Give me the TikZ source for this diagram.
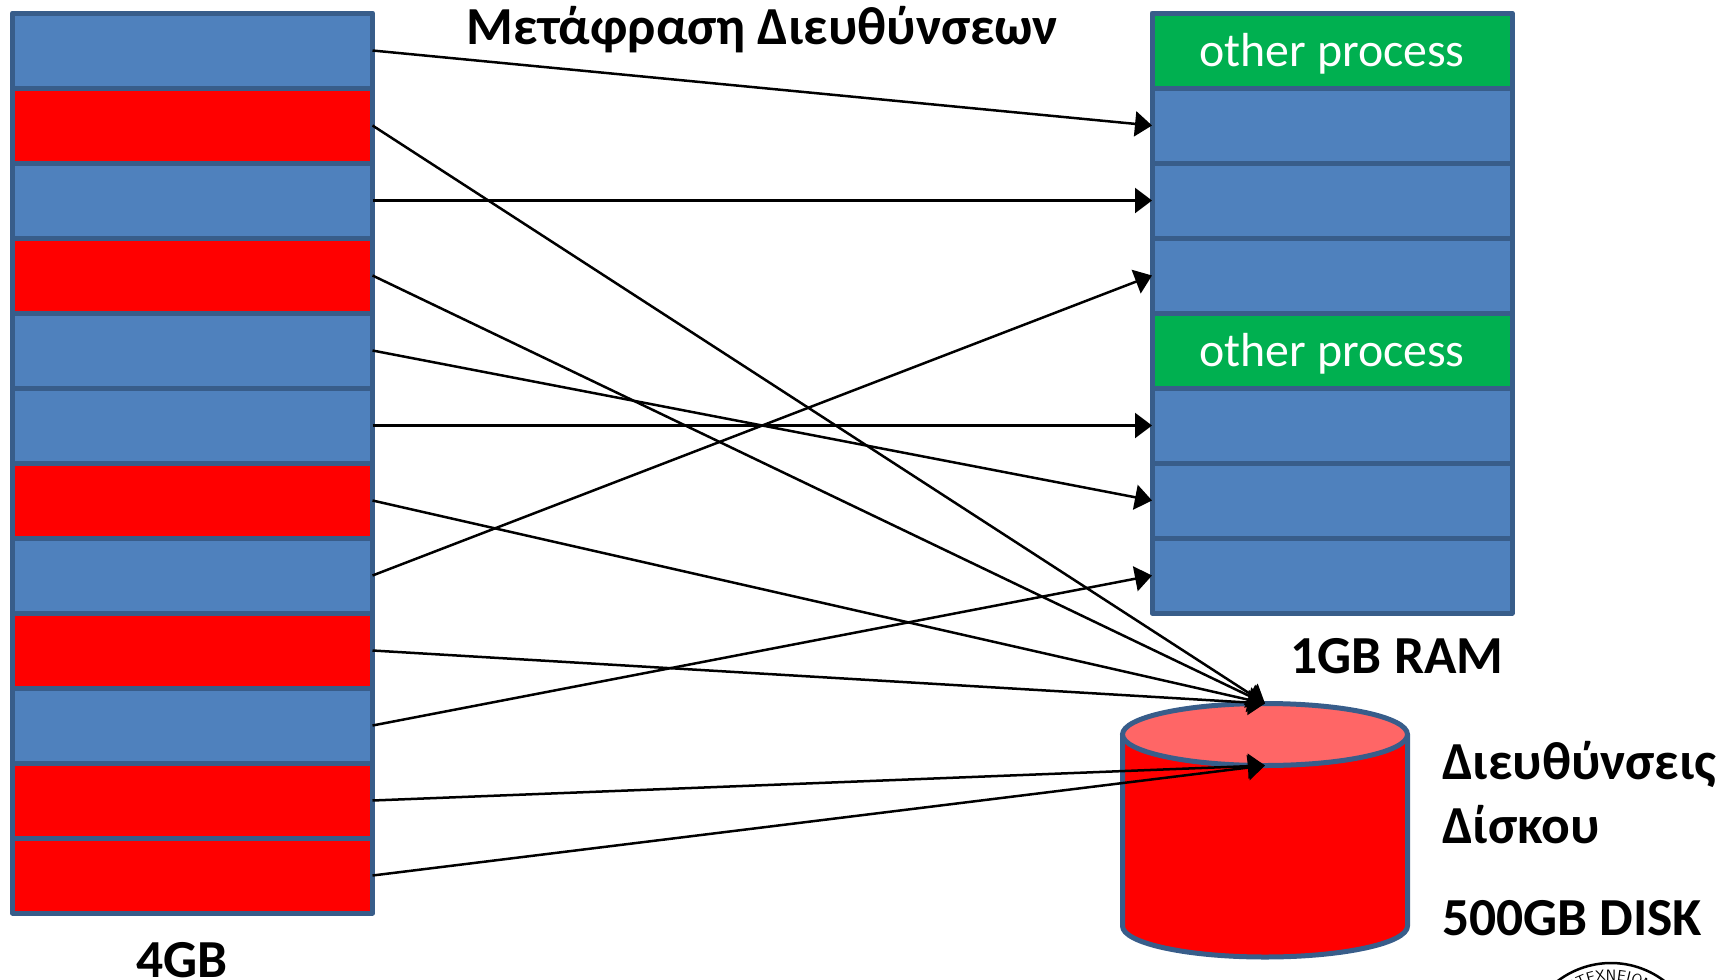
\documentclass[tikz,border=0pt]{standalone}
\usepackage{fontspec}
\usetikzlibrary{arrows.meta,shapes.geometric}
\setmainfont{Carlito}
\definecolor{cellblue}{HTML}{4F81BD}
\definecolor{edgeblue}{HTML}{385D8A}
\definecolor{cellred}{HTML}{FF0000}
\definecolor{cellgreen}{HTML}{00B050}
\definecolor{disktopc}{HTML}{FF6666}
\tikzset{
  cell/.style={draw=edgeblue,line width=5pt,line join=round,minimum width=360pt,minimum height=75pt,outer sep=0pt,inner sep=0pt,anchor=north west},
  bluecell/.style={cell,fill=cellblue},
  redcell/.style={cell,fill=cellred},
  greencell/.style={cell,fill=cellgreen,text=white,font=\fontsize{47.8}{47.8}\selectfont,text height=42pt,text depth=10pt},
  conn/.style={line width=2.5pt,draw=black,-{Triangle[length=17pt,width=25pt]}},
  lab/.style={font=\fontsize{53.5}{53.5}\selectfont\bfseries,inner sep=0pt,outer sep=0pt,text=black},
  seal/.style={font=\fontsize{15}{15}\selectfont\sffamily,inner sep=0pt,outer sep=0pt,text=black}
}
\begin{document}
\begin{tikzpicture}[x=1pt,y=-1pt]
\useasboundingbox (0,0) rectangle (1733,980);
\foreach \n/\st [count=\i from 0] in {l1/bluecell,l2/redcell,l3/bluecell,l4/redcell,l5/bluecell,l6/bluecell,l7/redcell,l8/bluecell,l9/redcell,l10/bluecell,l11/redcell,l12/redcell}
  \node[\st] (\n) at (12.5,{13+75*\i}) {};
\node[greencell] (r1) at (1152,13) {other process};
\node[bluecell] (r2) at (1152,88) {};
\node[bluecell] (r3) at (1152,163) {};
\node[bluecell] (r4) at (1152,238) {};
\node[greencell] (r5) at (1152,313) {other process};
\node[bluecell] (r6) at (1152,388) {};
\node[bluecell] (r7) at (1152,463) {};
\node[bluecell] (r8) at (1152,538) {};
% disk
\draw[edgeblue,fill=cellred,line width=5pt,line join=round] (1122.5,735) -- (1122.5,926) .. controls (1122.5,943) and (1186,957) .. (1265,957) .. controls (1344,957) and (1407.5,943) .. (1407.5,926) -- (1407.5,735);
\node[ellipse,draw=edgeblue,fill=disktopc,line width=5pt,minimum width=285pt,minimum height=62pt,inner sep=0pt,outer sep=0pt] (disktop) at (1265,734.5) {};
% labels
\node[lab,anchor=base] (title) at (762.5,44) {Μετάφραση Διευθύνσεων};
\node[lab,anchor=base] (ram) at (1397,673) {1GB RAM};
\node[lab,anchor=base west] (d1) at (1442,779) {Διευθύνσεις};
\node[lab,anchor=base west] (d2) at (1442,843) {Δίσκου};
\node[lab,anchor=base west] (d3) at (1442,935) {500GB DISK};
\node[lab,anchor=base] (four) at (182,977) {4GB};
% seal at the lower edge
\draw[black,line width=2.5pt,domain=-40:40,samples=30,smooth] plot ({1611+88*sin(\x)},{1051-88*cos(\x)});
\foreach \ch/\ang [count=\k] in {Ι/-29,Τ/-23,Ε/-15.5,Χ/-8,Ν/0,Ε/8,Ι/13.5,Ο/20,Ν/28}
  \node[seal,rotate=-\ang] (seal\k) at ({1611+76*sin(\ang)},{1051-76*cos(\ang)}) {\ch};
% connectors
\foreach \a/\b in {l1/r2,l3/r3,l5/r7,l6/r6,l8/r4,l10/r8}
  \draw[conn] (\a.east) -- (\b.west);
\foreach \a in {l2,l4,l7,l9}
  \draw[conn] (\a.east) -- (disktop.north);
\foreach \a in {l11,l12}
  \draw[conn] (\a.east) -- (disktop.south);
\end{tikzpicture}
\end{document}
